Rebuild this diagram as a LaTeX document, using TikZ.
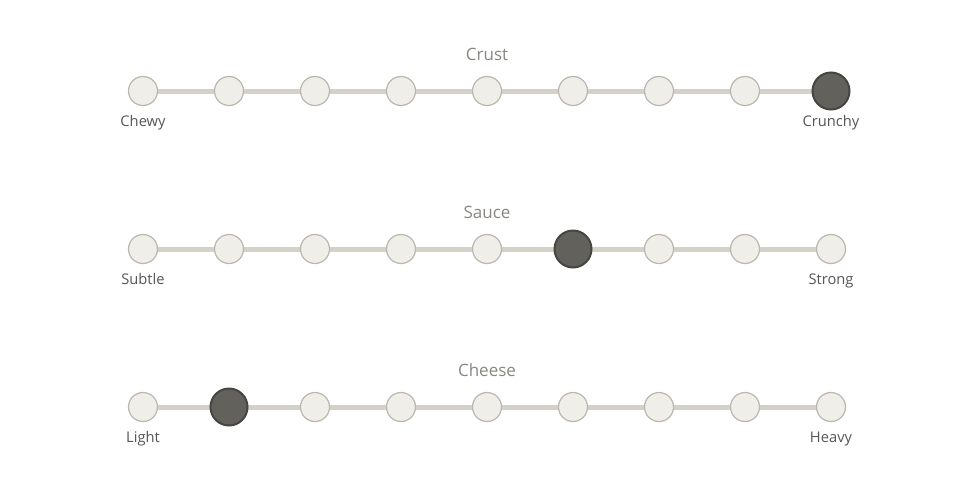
\documentclass[tikz,border=0pt]{standalone}
\usepackage{fontspec}
\setmainfont{Open Sans}
\definecolor{trackc}{HTML}{D4D1C8}
\definecolor{dotfill}{HTML}{F0EEE8}
\definecolor{dotdraw}{HTML}{BBB7AE}
\definecolor{selfill}{HTML}{62615C}
\definecolor{seldraw}{HTML}{454542}
\definecolor{titlec}{HTML}{8A8782}
\definecolor{labc}{HTML}{555555}
\begin{document}
\begin{tikzpicture}[x=1pt,y=-1pt,
  dot/.style={circle,minimum size=29pt,inner sep=0pt,fill=dotfill,draw=dotdraw,line width=1.2pt},
  seldot/.style={circle,minimum size=37pt,inner sep=0pt,fill=selfill,draw=seldraw,line width=2pt},
  track/.style={draw=trackc,line width=5pt},
  ttl/.style={text=titlec,font=\fontsize{17}{19}\selectfont,inner sep=0pt,anchor=base},
  lab/.style={text=labc,font=\fontsize{14.7}{16}\selectfont,inner sep=0pt,anchor=base}]
\useasboundingbox (0,0) rectangle (975,488);
\foreach \r/\yy/\sel/\t/\l/\rr in {1/91/9/Crust/Chewy/Crunchy, 2/249/6/Sauce/Subtle/Strong, 3/407/2/Cheese/Light/Heavy}{
  \coordinate (s\r) at (143,\yy);
  \coordinate (e\r) at (831,\yy);
  \draw[track] (s\r) -- (e\r);
  \foreach \i in {1,...,9}{
    \ifnum\i=\sel
      \node[seldot] (n\r-\i) at ({143+86*(\i-1)},\yy) {};
    \else
      \node[dot] (n\r-\i) at ({143+86*(\i-1)},\yy) {};
    \fi
  }
  \node[ttl] (t\r) at (487,\yy-31) {\t};
  \node[lab] (l\r) at (143,\yy+35.5) {\l};
  \node[lab] (r\r) at (831,\yy+35.5) {\rr};
}
\end{tikzpicture}
\end{document}
